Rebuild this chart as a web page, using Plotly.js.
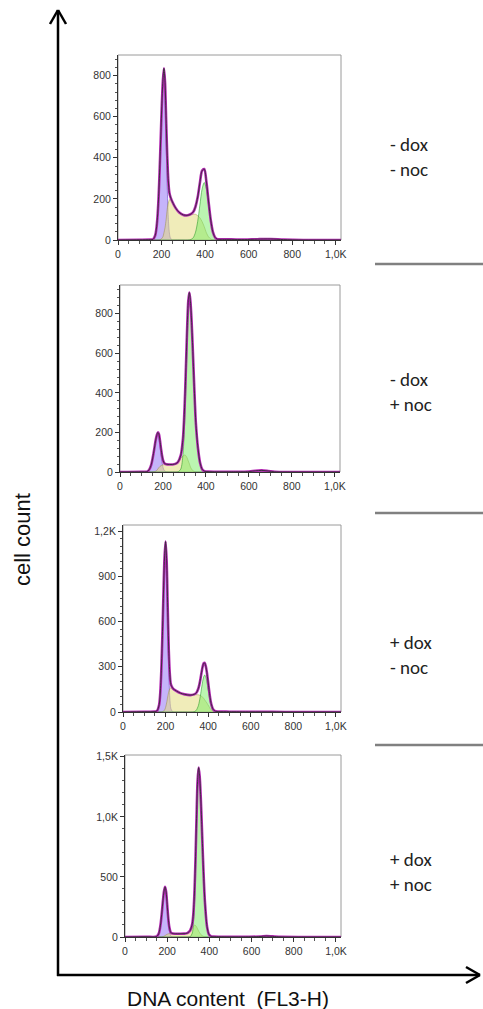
<!DOCTYPE html>
<html>
<head>
<meta charset="utf-8">
<script src="https://cdn.plot.ly/plotly-3.0.1.min.js"></script>
<style>html,body{margin:0;padding:0;background:#fff;}#chart{width:483px;height:1009px;}</style>
</head>
<body>
<div id="chart"></div>
<script>
// ---------- data ----------
const conditionLabels = ['- dox<br>- noc', '- dox<br>+ noc', '+ dox<br>- noc', '+ dox<br>+ noc'];
const xTickVals = [0, 200, 400, 600, 800, 1000];
const xTickText = ['0', '200', '400', '600', '800', '1,0K'];

const p1YTickVals = [0, 200, 400, 600, 800];
const p1YTickText = ['0', '200', '400', '600', '800'];
const p2YTickVals = [0, 200, 400, 600, 800];
const p2YTickText = ['0', '200', '400', '600', '800'];
const p3YTickVals = [0, 300, 600, 900, 1200];
const p3YTickText = ['0', '300', '600', '900', '1,2K'];
const p4YTickVals = [0, 500, 1000, 1500];
const p4YTickText = ['0', '500', '1,0K', '1,5K'];

// panel 1: - dox - noc
const p1Bins  = [0,100,150,161,171,176,181,186,191,196,201,206,211,216,221,226,231,236,241,250,265,280,300,320,336,346,356,366,376,386,396,406,416,426,436,446,456,480,520,580,640,700,760,850,1024];
const p1G1    = [0,0,0,3,23,53,108,199,329,486,640,757,800,706,485,260,108,35,9,0,0,0,0,0,0,0,0,0,0,0,0,0,0,0,0,0,0,0,0,0,0,0,0,0,0];
const p1S     = [0,0,0,0,0,0,0,0,1,3,8,15,35,60,100,150,180,195,200,185,155,135,122,120,124,125,125,118,108,90,65,35,15,5,0,0,0,0,0,0,0,0,0,0,0];
const p1G2    = [0,0,0,0,0,0,0,0,0,0,0,0,0,0,0,0,0,0,0,0,0,0,0,0,3,12,38,91,170,247,280,247,170,91,38,12,3,0,0,0,0,0,0,0,0];
const p1Count = [0,1,2,3,23,53,108,199,330,489,648,772,835,766,585,410,288,230,209,185,155,135,122,120,127,137,163,209,278,337,345,282,185,96,38,12,4,3,3,2,4,5,2,0,0];

// panel 2: - dox + noc
const p2Bins  = [0,100,126,136,146,156,161,166,171,176,181,186,191,196,201,206,216,230,245,260,270,283,293,298,303,308,313,318,323,328,333,338,343,348,353,363,373,383,393,410,450,520,600,630,660,690,720,800,1024];
const p2G1    = [0,0,2,12,39,93,125,156,177,185,170,131,85,46,21,8,1,0,0,0,0,0,0,0,0,0,0,0,0,0,0,0,0,0,0,0,0,0,0,0,0,0,0,0,0,0,0,0,0];
const p2S     = [0,0,0,0,0,1,2,4,8,15,22,28,32,35,36,37,38,38,38,42,50,70,80,85,86,80,70,55,42,25,15,8,4,1,0,0,0,0,0,0,0,0,0,0,0,0,0,0,0];
const p2G2    = [0,0,0,0,0,0,0,0,0,0,0,0,0,0,0,0,0,0,0,0,1,15,88,175,312,487,671,811,865,835,753,633,497,364,249,120,45,13,3,0,0,0,0,0,0,0,0,0,0];
const p2Count = [0,1,2,12,39,94,127,160,185,200,192,159,117,81,57,45,39,38,38,42,51,85,168,260,398,567,741,866,907,860,768,641,501,365,249,120,45,13,4,2,1,1,2,6,8,5,1,0,0];

// panel 3: + dox - noc
const p3Bins  = [0,100,150,160,170,175,180,185,190,195,200,205,210,215,220,225,235,250,270,290,316,334,344,354,359,364,369,374,379,384,389,394,399,404,409,414,424,434,450,500,600,700,800,1024];
const p3G1    = [0,0,0,4,48,125,274,504,778,1009,1100,942,593,274,94,23,0,0,0,0,0,0,0,0,0,0,0,0,0,0,0,0,0,0,0,0,0,0,0,0,0,0,0,0];
const p3S     = [0,0,0,0,0,0,0,2,5,12,30,60,100,135,155,160,155,140,125,117,112,115,115,114,112,109,105,98,90,80,70,60,48,36,24,14,5,1,0,0,0,0,0,0];
const p3G2    = [0,0,0,0,0,0,0,0,0,0,0,0,0,0,0,0,0,0,0,0,0,2,11,42,72,112,158,202,233,245,233,202,158,112,72,42,11,2,0,0,0,0,0,0];
const p3Count = [0,2,3,8,50,126,275,506,783,1021,1130,1002,693,409,249,183,155,140,125,117,112,117,126,156,184,221,263,300,323,325,303,262,206,148,96,56,16,5,3,2,1,1,0,0];

// panel 4: + dox + noc
const p4Bins  = [0,100,150,160,165,170,175,180,185,190,195,200,205,210,215,220,240,260,280,295,305,309,319,324,329,334,339,344,349,354,359,364,369,374,379,389,399,409,420,450,550,640,670,700,740,850,1024];
const p4G1    = [0,0,4,28,64,124,208,301,376,405,357,246,132,55,18,4,0,0,0,0,0,0,0,0,0,0,0,0,0,0,0,0,0,0,0,0,0,0,0,0,0,0,0,0,0,0,0];
const p4S     = [0,0,0,0,0,0,0,3,6,12,18,23,26,28,28,28,27,27,28,32,45,52,78,88,98,96,85,68,50,35,22,14,8,4,2,0,0,0,0,0,0,0,0,0,0,0,0];
const p4G2    = [0,0,0,0,0,0,0,0,0,0,0,0,0,0,0,0,0,0,0,0,1,2,33,103,260,537,901,1227,1360,1303,1144,922,680,461,287,86,18,3,0,0,0,0,0,0,0,0,0];
const p4Count = [0,2,4,28,64,124,208,304,382,417,375,269,158,83,46,32,27,27,28,32,46,54,111,191,358,633,986,1295,1410,1338,1166,936,688,465,289,86,18,5,3,2,1,4,8,5,1,0,0];

// ---------- layout helpers (pixels -> paper) ----------
const W = 483, H = 1009;
const PX = v => v / W;
const PY = v => 1 - v / H;

const panels = [
  {bins: p1Bins, g1: p1G1, s: p1S, g2: p1G2, count: p1Count, yMax: 900,  yTV: p1YTickVals, yTT: p1YTickText, yMinor: 40,
   frame: {l: 118, r: 341, t: 55,  b: 240}, labelY: 157},
  {bins: p2Bins, g1: p2G1, s: p2S, g2: p2G2, count: p2Count, yMax: 945,  yTV: p2YTickVals, yTT: p2YTickText, yMinor: 40,
   frame: {l: 120, r: 340, t: 285, b: 472}, labelY: 392},
  {bins: p3Bins, g1: p3G1, s: p3S, g2: p3G2, count: p3Count, yMax: 1240, yTV: p3YTickVals, yTT: p3YTickText, yMinor: 50,
   frame: {l: 123, r: 341, t: 525, b: 712}, labelY: 655},
  {bins: p4Bins, g1: p4G1, s: p4S, g2: p4G2, count: p4Count, yMax: 1515, yTV: p4YTickVals, yTT: p4YTickText, yMinor: 100,
   frame: {l: 125, r: 341, t: 755, b: 937}, labelY: 872}
];

const tickFont = {family: 'Liberation Sans, Arial, sans-serif', size: 10.5, color: '#333'};
const traces = [];
const layout = {
  width: W, height: H,
  margin: {l: 0, r: 0, t: 0, b: 0},
  paper_bgcolor: '#fff', plot_bgcolor: '#fff',
  showlegend: false,
  shapes: [], annotations: []
};

const lineBase = {shape: 'spline', smoothing: 0.8};

panels.forEach((p, i) => {
  const sfx = i === 0 ? '' : String(i + 1);
  const xa = 'x' + sfx, ya = 'y' + sfx;
  const common = {type: 'scatter', mode: 'lines', xaxis: xa, yaxis: ya, hoverinfo: 'skip'};
  traces.push(Object.assign({}, common, {x: p.bins, y: p.g1, fill: 'tozeroy',
    fillcolor: 'rgba(150,118,245,0.55)', line: Object.assign({color: 'rgba(90,60,190,0.7)', width: 0.8}, lineBase)}));
  traces.push(Object.assign({}, common, {x: p.bins, y: p.s, fill: 'tozeroy',
    fillcolor: 'rgba(228,220,128,0.55)', line: Object.assign({color: 'rgba(150,140,60,0.6)', width: 0.8}, lineBase)}));
  traces.push(Object.assign({}, common, {x: p.bins, y: p.g2, fill: 'tozeroy',
    fillcolor: 'rgba(120,235,100,0.5)', line: Object.assign({color: 'rgba(40,150,40,0.7)', width: 0.8}, lineBase)}));
  traces.push(Object.assign({}, common, {x: p.bins, y: p.count,
    line: Object.assign({color: 'rgb(180,40,180)', width: 2.6}, lineBase)}));
  traces.push(Object.assign({}, common, {x: p.bins, y: p.count,
    line: Object.assign({color: 'rgba(45,45,45,0.85)', width: 1}, lineBase)}));

  const f = p.frame;
  layout['xaxis' + sfx] = {
    domain: [PX(f.l), PX(f.r)], anchor: ya, range: [0, 1024],
    tickmode: 'array', tickvals: xTickVals, ticktext: xTickText,
    ticks: 'outside', ticklen: 4, tickwidth: 1, tickcolor: '#333',
    minor: {dtick: 50, tick0: 0, ticks: 'outside', ticklen: 2.5, tickcolor: '#555', tickwidth: 1},
    showline: true, linecolor: '#333', linewidth: 1,
    showgrid: false, zeroline: false, tickfont: tickFont, fixedrange: true
  };
  layout['yaxis' + sfx] = {
    domain: [PY(f.b), PY(f.t)], anchor: xa, range: [0, p.yMax],
    tickmode: 'array', tickvals: p.yTV, ticktext: p.yTT,
    ticks: 'outside', ticklen: 4, tickwidth: 1, tickcolor: '#333',
    minor: {dtick: p.yMinor, tick0: 0, ticks: 'outside', ticklen: 2.5, tickcolor: '#555', tickwidth: 1},
    showline: true, linecolor: '#333', linewidth: 1,
    showgrid: false, zeroline: false, tickfont: tickFont, fixedrange: true
  };
  // light frame on the top/right
  layout.shapes.push({type: 'rect', xref: xa + ' domain', yref: ya + ' domain', x0: 0, x1: 1, y0: 0, y1: 1,
    line: {color: '#9a9a9a', width: 1}, fillcolor: 'rgba(0,0,0,0)', layer: 'below'});
  // condition label
  layout.annotations.push({xref: 'paper', yref: 'paper', x: PX(388), y: PY(p.labelY),
    xanchor: 'left', yanchor: 'middle', align: 'left', showarrow: false, text: conditionLabels[i],
    font: {family: 'Carlito, Lato, "Open Sans", sans-serif', size: 19, color: '#222'}});
});

// separators between conditions
[264, 513, 745].forEach(y => {
  layout.shapes.push({type: 'line', xref: 'paper', yref: 'paper', x0: PX(375), x1: PX(483), y0: PY(y), y1: PY(y),
    line: {color: '#808080', width: 2.5}});
});

// big axes arrows
const arrowLine = {color: '#000', width: 2.5};
[[58, 976, 58, 10], [50, 24, 58, 10], [66, 24, 58, 10],
 [57, 975, 480, 975], [466, 967, 480, 975], [466, 983, 480, 975]].forEach(s => {
  layout.shapes.push({type: 'line', xref: 'paper', yref: 'paper', x0: PX(s[0]), y0: PY(s[1]), x1: PX(s[2]), y1: PY(s[3]),
    line: arrowLine});
});

layout.annotations.push({xref: 'paper', yref: 'paper', x: PX(22), y: PY(540), textangle: -90,
  showarrow: false, text: 'cell count', xanchor: 'center', yanchor: 'middle',
  font: {family: 'Liberation Sans, Arial, sans-serif', size: 22, color: '#111'}});
layout.annotations.push({xref: 'paper', yref: 'paper', x: PX(228), y: PY(998),
  showarrow: false, text: 'DNA content  (FL3-H)', xanchor: 'center', yanchor: 'middle',
  font: {family: 'Liberation Sans, Arial, sans-serif', size: 21, color: '#111'}});

Plotly.newPlot('chart', traces, layout, {staticPlot: true, displayModeBar: false});
</script>
</body>
</html>
